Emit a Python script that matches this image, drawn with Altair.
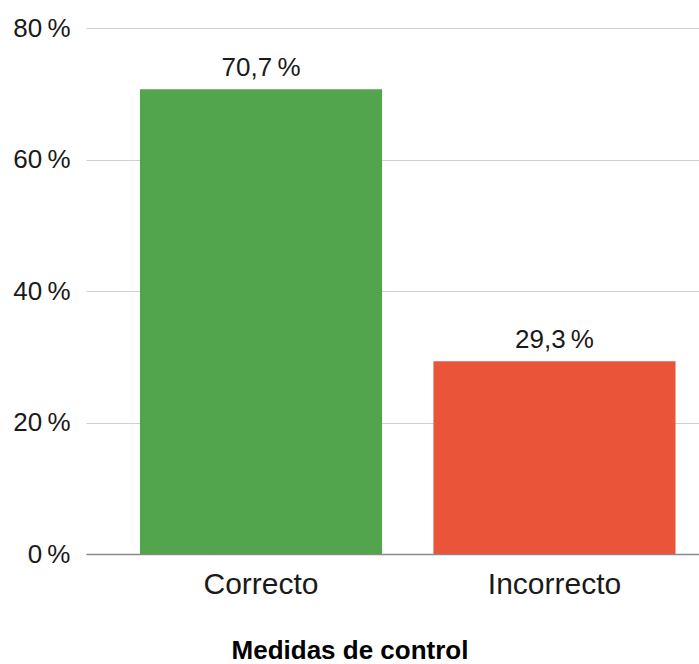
import altair as alt
import pandas as pd

categories = ["Correcto", "Incorrecto"]
values = [0.707, 0.293]
labels = ["70,7\u2009%", "29,3\u2009%"]
colors = ["#53A54D", "#EA553A"]

df = pd.DataFrame({"cat": categories, "val": values, "lab": labels})

FONT = "Liberation Sans"

x = alt.X(
    "cat:N",
    sort=categories,
    scale=alt.Scale(paddingInner=0.175, paddingOuter=0.132, align=0.697),
    axis=alt.Axis(
        title="Medidas de control",
        labelAngle=0,
        labelFont=FONT,
        labelFontSize=30,
        labelColor="#1a1a1a",
        labelPadding=15,
        ticks=False,
        grid=False,
        domainColor="#8a8a8a",
        domainWidth=1.5,
        titleFont=FONT,
        titleFontSize=26,
        titleFontWeight="bold",
        titleColor="#000000",
        titleX=263.5,
        titleY=104,
        titleAnchor="start",
        titleAlign="center",
        titleBaseline="alphabetic",
    ),
)

y = alt.Y(
    "val:Q",
    scale=alt.Scale(domain=[0, 0.8], nice=False),
    axis=alt.Axis(
        title=None,
        values=[0, 0.2, 0.4, 0.6, 0.8],
        labelExpr="format(datum.value*100, 'd') + '\u2009%'",
        labelFont=FONT,
        labelFontSize=26,
        labelColor="#1a1a1a",
        labelPadding=16,
        ticks=False,
        domain=False,
        gridColor="#d0d0d0",
        gridWidth=1,
    ),
)

base = alt.Chart(df).encode(x=x, y=y)

bars = base.mark_bar().encode(
    color=alt.Color("cat:N", scale=alt.Scale(domain=categories, range=colors), legend=None),
)

text = base.mark_text(
    baseline="alphabetic", dy=-13, font=FONT, fontSize=26, color="#1a1a1a"
).encode(text="lab:N")

chart = (
    alt.layer(bars, text)
    .properties(
        width=613,
        height=526,
        padding={"left": 86, "top": 28, "right": 0, "bottom": 110},
        autosize=alt.AutoSizeParams(type="none"),
        view=alt.ViewBackground(stroke="transparent", strokeWidth=0),
    )
    .configure_view(stroke="transparent", strokeWidth=0)
    .configure_axisY(domain=False, ticks=False)
    .configure_axisX(grid=False)
    .configure(background="white")
)

chart.save("out.html", embed_options={"renderer": "svg", "actions": False})
